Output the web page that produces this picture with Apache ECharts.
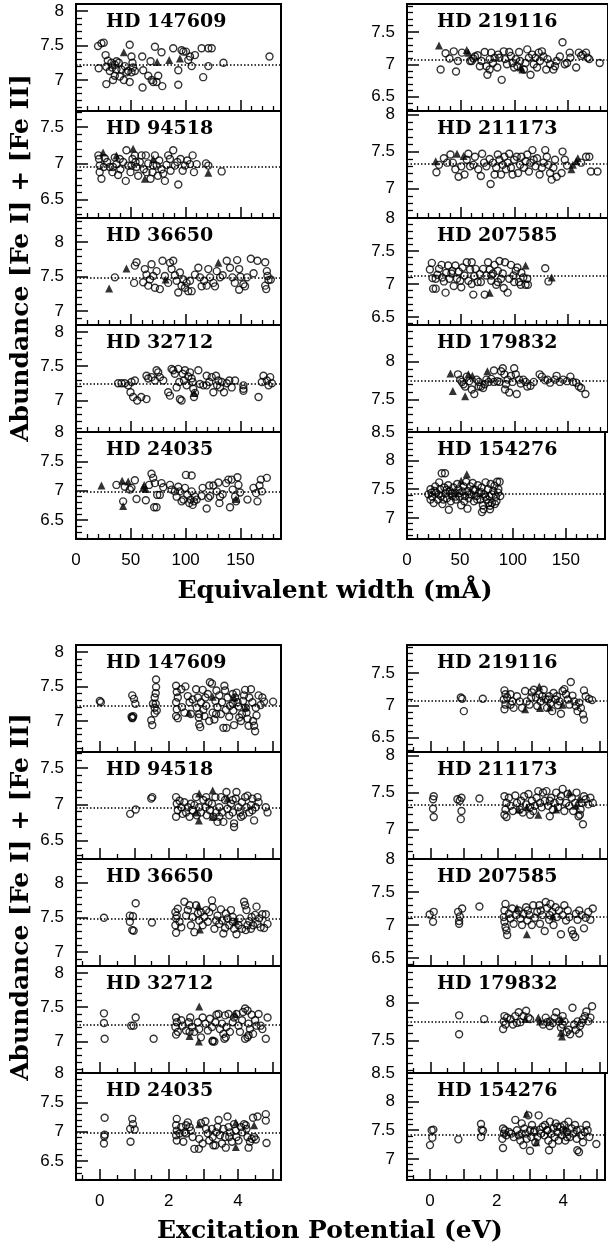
<!DOCTYPE html>
<html><head><meta charset="utf-8">
<script src="https://cdn.jsdelivr.net/npm/echarts@6/dist/echarts.min.js"></script>
<style>html,body{margin:0;padding:0;background:#fff}#c{width:608px;height:1247px}</style>
</head><body><div id="c"></div>
<script>
// ---- panel metadata ----
const stars = ['HD 147609','HD 94518','HD 36650','HD 32712','HD 24035','HD 219116','HD 211173','HD 207585','HD 179832','HD 154276'];
const yMin = [6.55,6.25,6.8,6.54,6.18,6.28,6.6,6.38,7.07,6.63];
const yMax = [8.1,7.72,8.35,8.1,8.0,7.93,8.05,8.0,8.48,8.5];
const meanAbund = [7.22,6.95,7.49,7.25,6.99,7.07,7.33,7.12,7.74,7.42];
const ewTickLabels = [0,50,100,150];
const epTickLabels = [0,2,4];
const ewRange = [0,187];
const epRange = [-0.69,5.25];

// ---- Equivalent width panels: [EW (mA), abundance] ; I = Fe I (open circles), II = Fe II (triangles) ----
const ewI_147609 = [[20.1,7.49],[23.2,7.53],[25.3,7.54],[27,7.36],[29,7.28],[27.7,7.19],[30.8,7.13],[33,7.18],[35.4,7.22],[37,7.27],[39,7.25],[35.4,7.06],[40,7.05],[27.7,6.94],[41.5,7.15],[46,7.11],[43.6,7.0],[49,7.51],[50.6,7.34],[51.5,7.25],[52,7.18],[50.6,7.11],[53.7,7.13],[49,6.97],[60.4,7.34],[61.3,7.14],[60.7,6.89],[65.9,7.06],[68,7.27],[69,7.0],[70.4,6.97],[72,7.48],[75,7.06],[73.5,6.97],[78,7.4],[78.7,6.91],[88.7,7.46],[93.3,7.14],[93.3,6.93],[96.3,7.43],[97.9,7.41],[100.3,7.41],[102.4,7.29],[104,7.34],[105.5,7.2],[108.5,7.36],[114.6,7.46],[116,7.04],[120.7,7.2],[120.7,7.46],[123.8,7.46],[134.5,7.25],[176.5,7.34],[20.7,7.17],[32.3,7.25],[36.9,7.15],[44.5,7.2],[47.6,7.13],[33.8,7.0]];
const ewII_147609 = [[43.6,7.4],[74,7.26],[85,7.29],[94.8,7.31]];

const ewI_94518 = [[20.4,7.11],[21,7.06],[21.6,6.97],[23.2,6.79],[26.2,7.07],[28.4,7.02],[30.8,6.95],[33.2,6.88],[35.4,7.08],[36.9,6.99],[38.4,6.84],[40.5,6.92],[43,7.02],[45.4,6.76],[46,7.18],[47.6,6.97],[49.7,6.88],[51.5,7.06],[53.7,7.11],[55.2,6.95],[56.7,6.83],[58.2,7.02],[59.8,7.11],[61.9,6.92],[63.7,7.11],[65.9,7.0],[68,6.79],[69.8,6.88],[72,7.11],[73.5,6.97],[75.9,7.04],[78,6.92],[79.6,6.86],[81.1,6.76],[82.6,6.98],[84.1,7.11],[86.3,6.9],[88.7,7.18],[90.2,6.97],[92.4,7.02],[93.3,6.71],[95.4,7.06],[97.3,6.9],[99.4,6.97],[101.5,7.04],[104,6.99],[106.4,7.11],[107.6,6.88],[110.1,6.99],[118.6,7.0],[120.7,6.97],[132.9,6.89],[25.3,6.95],[33.8,6.95],[39.9,7.06],[50.6,6.97],[64.3,6.88],[70.4,6.97],[54.3,7.02],[74.7,6.83],[85.7,7.06],[21.6,6.88]];
const ewII_94518 = [[24.7,7.15],[52.1,7.2],[62.8,6.79],[120.7,6.87],[36.9,7.11],[70.4,7.06]];

const ewI_36650 = [[35.4,7.49],[53,7.41],[53.7,7.66],[55.2,7.71],[61.3,7.42],[62.8,7.61],[64.3,7.53],[65.9,7.37],[67.4,7.46],[68.9,7.68],[70.4,7.51],[72,7.34],[73.5,7.58],[76.5,7.32],[78.9,7.73],[81.1,7.51],[84.1,7.41],[85.7,7.7],[87.2,7.61],[88.7,7.73],[90.2,7.52],[91.8,7.44],[93.3,7.27],[94.8,7.56],[96.3,7.37],[97.9,7.46],[99.4,7.34],[100.9,7.41],[102.4,7.29],[104,7.44],[105.5,7.29],[108.5,7.53],[111.6,7.63],[113.1,7.49],[114.6,7.36],[116.8,7.44],[119.2,7.37],[120.7,7.61],[122.3,7.49],[125.3,7.41],[126.8,7.36],[128.4,7.58],[131.4,7.49],[133.8,7.52],[137.5,7.73],[140.5,7.63],[142.7,7.49],[144.9,7.41],[147,7.74],[148.8,7.61],[150,7.5],[152.7,7.39],[154.2,7.36],[148.8,7.31],[159.5,7.76],[162,7.55],[165.5,7.73],[172.6,7.71],[174.1,7.58],[174.7,7.51],[175.6,7.45],[172.6,7.37],[173.5,7.32],[177.7,7.46],[156,7.49]];
const ewII_36650 = [[30.2,7.33],[46,7.62],[81.7,7.46],[129.9,7.7]];

const ewI_32712 = [[38.4,7.25],[41.5,7.25],[44.5,7.25],[47.6,7.22],[49.7,7.12],[50.6,7.27],[53.7,7.29],[52.1,7.05],[55.8,7.0],[59.5,7.05],[64.3,7.02],[64.3,7.36],[65.9,7.32],[68.9,7.34],[72,7.29],[73.5,7.44],[75,7.41],[76.5,7.34],[79.6,7.29],[84.1,7.12],[85.7,7.07],[87.2,7.46],[88.7,7.44],[90.2,7.39],[91.8,7.19],[93.3,7.46],[94.2,7.27],[94.8,7.02],[96.3,7.0],[97.3,7.39],[98.5,7.29],[99.4,7.44],[100.9,7.22],[102.4,7.35],[104,7.41],[105.5,7.32],[106.4,7.27],[107,7.17],[107.6,7.05],[108.5,7.11],[111.6,7.44],[113.1,7.24],[116.2,7.22],[119.2,7.36],[121.6,7.27],[123.8,7.34],[125.3,7.12],[127.7,7.36],[129.9,7.29],[131.4,7.19],[132.9,7.27],[135,7.12],[137.5,7.25],[139.9,7.29],[142,7.19],[145.1,7.29],[152.7,7.22],[152.7,7.17],[152.7,7.14],[166.5,7.05],[169.5,7.27],[171,7.36],[174.1,7.29],[177.1,7.34],[178.7,7.25],[175.6,7.22],[119.2,7.22],[128.7,7.22]];
const ewII_32712 = [[107.9,7.11]];

const ewI_24035 = [[36.9,7.1],[43,6.82],[44.5,7.07],[49.1,7.02],[50.6,7.05],[53.7,7.18],[55.2,6.86],[63.7,6.84],[66.7,7.1],[68.9,7.29],[70.4,7.22],[72,7.13],[71.3,6.72],[73.5,6.72],[74.1,6.93],[76.5,6.93],[78,7.13],[79.6,7.06],[85.7,7.1],[87.2,7.02],[90.2,6.99],[91.8,6.9],[93.3,7.07],[94.8,6.99],[96.3,6.82],[97.9,6.85],[99.4,7.05],[100.3,7.27],[101.5,6.93],[103.4,6.79],[104.6,6.85],[105.5,7.26],[106.4,6.76],[107.6,6.82],[108.5,6.9],[110.1,6.85],[115.5,7.05],[119.2,6.7],[120.7,6.88],[121.6,7.09],[122.3,6.91],[125.3,7.09],[128.4,6.99],[129.9,7.14],[130.8,6.79],[131.4,6.9],[133.8,6.94],[136.9,7.13],[139,7.19],[140.5,6.72],[142,7.19],[142.9,7.02],[145.1,6.9],[146,6.82],[147.3,7.23],[148.2,7.1],[149.7,6.97],[156.4,6.85],[161.9,7.05],[164.3,6.96],[165.5,6.82],[167.4,7.09],[168.6,7.19],[169.5,6.99],[174.1,7.22],[105.5,6.99],[114.6,6.91]];
const ewII_24035 = [[23.2,7.09],[42.1,7.17],[43,6.74],[47.6,7.16],[61.3,7.05],[63.7,7.03],[62.2,7.1],[146,6.86]];

const ewI_219116 = [[31.3,6.92],[35.9,7.17],[39.5,7.09],[43.5,7.2],[45.6,6.89],[47.4,7.05],[51.1,7.18],[58.7,7.05],[61.7,7.09],[63.2,7.12],[65.7,7.14],[69.3,7.05],[72.3,7.19],[73.9,6.97],[74.8,6.84],[76.9,6.92],[78.4,7.18],[80,7.02],[81.5,7.1],[84,6.95],[86,7.1],[88.1,6.76],[90,7.2],[91.2,7.08],[93,7.0],[95.1,7.19],[96.7,7.13],[98.2,7.02],[99.7,6.95],[101.2,7.08],[102.7,6.97],[104.3,7.19],[105.2,7.05],[108.8,6.92],[110.3,7.02],[111.9,7.23],[113.4,7.1],[114.9,6.84],[116.4,7.15],[117.9,7.0],[119.5,7.1],[121,6.95],[122.5,7.18],[123.7,7.05],[125.5,7.2],[127,7.12],[129.5,6.92],[130.7,7.08],[133.1,7.0],[136.2,6.92],[137.7,6.97],[139.2,7.05],[142.2,7.12],[144.7,7.34],[146.8,7.0],[148.9,7.02],[151.4,7.18],[152,7.1],[157.4,6.95],[159.9,7.18],[162,7.13],[163.5,7.15],[166.6,7.18],[168.1,7.1],[169.6,7.08],[179.3,7.02],[84.8,7.15],[77,7.08],[67.8,6.97],[60.2,7.05]];
const ewII_219116 = [[29.8,7.29],[55.6,7.22],[57.1,7.18],[105.8,6.95],[107.3,6.92]];

const ewI_211173 = [[27.4,7.22],[29.8,7.32],[34.3,7.41],[37.4,7.35],[40.4,7.46],[42.6,7.35],[45,7.26],[48,7.16],[50.5,7.3],[53.5,7.19],[55.6,7.39],[57.1,7.47],[58.7,7.3],[61.7,7.32],[63.2,7.43],[66.3,7.26],[68.7,7.17],[69.9,7.47],[71.7,7.35],[73.9,7.3],[76.9,7.4],[77.8,7.06],[80,7.35],[81.5,7.19],[83,7.28],[84.5,7.46],[86,7.39],[87.5,7.19],[89.1,7.32],[90.6,7.43],[92.1,7.26],[93.6,7.35],[95.1,7.47],[96.7,7.28],[98.2,7.19],[99.7,7.39],[102.1,7.43],[103.3,7.21],[105.2,7.32],[106.4,7.43],[108.8,7.28],[110.3,7.37],[111.9,7.46],[113.4,7.23],[114.9,7.35],[116.7,7.52],[117.9,7.39],[119.5,7.3],[121,7.41],[123.4,7.19],[125.5,7.28],[127,7.35],[128.6,7.52],[130.1,7.43],[131.6,7.32],[133.1,7.21],[134.6,7.12],[136.2,7.28],[137.7,7.39],[139.2,7.16],[143.8,7.21],[144.7,7.5],[146.8,7.39],[148.9,7.31],[162,7.35],[166.6,7.43],[169.6,7.43],[171.1,7.23],[177.2,7.23]];
const ewII_211173 = [[26.7,7.37],[46.5,7.47],[52.6,7.44],[152.9,7.26],[154.4,7.32],[157.4,7.37],[159,7.41]];

const ewI_207585 = [[21.3,7.22],[23.1,7.32],[24.3,6.93],[26.7,6.93],[23.7,7.09],[28.3,7.14],[29.8,7.23],[32.2,7.29],[34.3,7.04],[35.9,6.87],[36.5,7.17],[38.3,7.28],[39.5,7.08],[41.3,7.16],[43.5,6.97],[45,7.28],[46.5,7.08],[48,7.19],[50.5,6.95],[51.7,7.25],[53.5,7.13],[55.6,7.33],[57.1,7.05],[58.7,7.22],[60.2,7.33],[61.7,6.84],[62.6,7.12],[63.8,7.23],[65.7,7.03],[67.8,7.15],[68.7,7.03],[70.8,7.23],[72.3,6.84],[73.9,7.13],[75.4,7.33],[76.9,7.22],[78.4,7.05],[80,7.16],[81.5,7.29],[83,6.99],[84.5,7.2],[86,7.35],[87.5,7.08],[89.1,7.16],[90,6.94],[91.2,7.33],[93.6,6.87],[95.1,7.08],[96.7,7.29],[99.1,7.13],[101.2,7.2],[102.7,7.25],[104.3,7.03],[106.4,7.17],[108.2,7.1],[110.3,6.99],[111.9,7.08],[112.5,6.99],[128.6,7.24],[131.6,7.04],[26.7,7.08],[32.8,7.1],[42.2,7.2],[49.5,7.05],[60.2,7.0],[78.4,7.13],[84.5,7.03],[99.7,7.03],[105.8,6.99]];
const ewII_207585 = [[76.9,6.87],[110.3,7.28],[134.6,7.1]];

const ewI_179832 = [[47.4,7.83],[49.5,7.76],[51.1,7.73],[52.6,7.7],[54.1,7.67],[55.6,7.8],[57.8,7.74],[60.2,7.63],[62.6,7.57],[64.7,7.76],[66.9,7.73],[68.7,7.67],[70.8,7.65],[72.3,7.7],[73.9,7.76],[76,7.73],[78.4,7.77],[80.9,7.88],[83.9,7.74],[86,7.73],[87.5,7.87],[89.1,7.91],[90.6,7.83],[91.2,7.63],[92.1,7.7],[93.6,7.76],[95.1,7.59],[96.7,7.81],[98.2,7.73],[99.7,7.91],[101.2,7.83],[102.1,7.57],[104.3,7.76],[105.8,7.71],[108.2,7.76],[110.3,7.73],[111.9,7.67],[114.9,7.68],[117.9,7.73],[123.4,7.83],[125.5,7.8],[128.6,7.75],[130.7,7.76],[133.1,7.72],[137.7,7.76],[139.2,7.81],[142.2,7.73],[145.3,7.76],[148.9,7.74],[152,7.8],[154.4,7.73],[157.4,7.72],[159.9,7.67],[162,7.65],[166,7.57],[80.9,7.73],[66.6,7.67]];
const ewII_179832 = [[40.4,7.84],[42.6,7.61],[54.1,7.54],[57.1,7.83],[60.8,7.81],[74.8,7.87]];

const ewI_154276 = [[32.8,7.78],[35.9,7.78],[39.5,7.14],[57.1,7.16],[72.3,7.15],[70.8,7.1],[78.4,7.15],[83,7.24],[84.5,7.29],[87.5,7.63],[86,7.44],[88.1,7.38],[20.1,7.41],[22.2,7.5],[22.2,7.32],[23.7,7.37],[25.2,7.26],[26.7,7.55],[27.4,7.44],[29.2,7.32],[30.4,7.62],[31.3,7.5],[32.2,7.38],[33.4,7.24],[35.3,7.53],[36.5,7.43],[37.7,7.34],[38.9,7.57],[40.4,7.47],[41.3,7.29],[42.6,7.38],[43.8,7.53],[45,7.44],[46.2,7.32],[47.4,7.59],[48.6,7.5],[49.8,7.37],[51.1,7.22],[52.3,7.46],[53.5,7.55],[54.7,7.38],[55.9,7.63],[57.1,7.47],[58.4,7.34],[59.6,7.55],[60.8,7.41],[62,7.61],[63.2,7.29],[64.4,7.49],[65.7,7.38],[66.9,7.57],[68.1,7.44],[69.3,7.32],[70.5,7.53],[71.7,7.22],[72.9,7.41],[74.2,7.62],[75.4,7.32],[76.6,7.5],[77.8,7.38],[79,7.59],[80.2,7.26],[81.5,7.47],[82.7,7.56],[83.9,7.37],[85.1,7.63],[86.3,7.5],[23.1,7.44],[26.1,7.47],[29.8,7.41],[34.3,7.32],[37.4,7.49],[41.9,7.43],[45.6,7.37],[49.5,7.43],[54.1,7.29],[58.7,7.41],[62.6,7.49],[66.3,7.32],[69.9,7.45],[73.9,7.37],[76.9,7.26],[80,7.41],[78.4,7.21]];
const ewII_154276 = [[56.5,7.76],[51.1,7.65]];

// ---- Excitation potential panels: [EP (eV), abundance] ----
const epI_147609 = [[0.0,7.29],[0.03,7.27],[0.92,7.06],[0.95,7.05],[0.97,7.07],[0.94,7.04],[0.94,7.37],[0.99,7.32],[1.03,7.25],[1.49,7.01],[1.52,6.94],[1.59,7.11],[1.59,7.19],[1.62,7.25],[1.59,7.34],[1.62,7.4],[1.63,7.49],[1.63,7.6],[1.65,7.15],[1.54,7.25],[2.21,7.51],[2.23,7.42],[2.26,7.34],[2.21,7.27],[2.23,7.17],[2.21,7.07],[2.26,7.04],[2.36,7.46],[2.38,7.2],[2.45,7.12],[2.48,7.5],[2.55,7.36],[2.6,7.27],[2.64,7.1],[2.69,7.31],[2.79,7.46],[2.81,7.19],[2.84,7.34],[2.87,7.05],[2.88,6.95],[2.91,6.91],[2.93,7.27],[2.98,7.45],[3.0,7.16],[3.03,7.07],[3.06,7.34],[3.08,7.22],[3.13,7.39],[3.17,7.0],[3.19,7.56],[3.25,7.54],[3.27,7.12],[3.32,7.02],[3.35,7.29],[3.38,7.44],[3.41,7.2],[3.46,7.37],[3.51,7.1],[3.54,7.27],[3.58,6.9],[3.61,7.51],[3.63,7.44],[3.65,7.16],[3.67,6.9],[3.7,7.34],[3.75,7.06],[3.77,7.22],[3.85,7.39],[3.87,7.15],[3.89,6.94],[3.92,7.34],[3.96,7.41],[3.99,7.27],[4.02,7.21],[4.04,7.05],[4.09,7.0],[4.12,7.1],[4.15,7.29],[4.18,7.37],[4.21,7.45],[4.23,7.19],[4.25,7.12],[4.28,7.03],[4.31,6.93],[4.33,7.34],[4.38,7.46],[4.42,7.27],[4.44,7.0],[4.47,6.93],[4.5,6.85],[4.52,7.19],[4.54,7.08],[4.6,7.37],[4.66,7.23],[4.71,7.34],[4.76,7.28],[5.02,7.28],[2.88,7.1],[3.37,7.1],[3.85,7.25]];
const epII_147609 = [[2.58,7.12],[3.27,7.35],[3.89,7.34],[4.23,7.2]];

const epI_94518 = [[0.88,6.87],[1.04,6.93],[1.49,7.08],[1.52,7.1],[2.21,7.1],[2.23,7.01],[2.26,6.92],[2.21,6.83],[2.36,6.96],[2.4,6.87],[2.45,7.03],[2.5,6.89],[2.55,6.96],[2.6,6.83],[2.64,7.01],[2.69,6.92],[2.74,6.99],[2.81,6.85],[2.88,6.96],[2.93,6.89],[3.0,7.06],[3.06,6.96],[3.1,6.85],[3.15,7.03],[3.19,6.92],[3.25,7.01],[3.29,6.83],[3.35,7.1],[3.38,6.89],[3.41,6.76],[3.46,6.96],[3.51,7.1],[3.54,6.89],[3.58,6.76],[3.63,7.06],[3.67,7.17],[3.7,6.94],[3.75,6.85],[3.8,7.01],[3.85,6.89],[3.89,6.74],[3.89,6.69],[3.94,7.08],[3.96,7.17],[4.02,6.96],[4.06,6.89],[4.12,7.03],[4.15,6.85],[4.21,7.1],[4.25,6.96],[4.28,7.12],[4.33,6.89],[4.38,6.99],[4.42,7.08],[4.47,6.78],[4.52,6.96],[4.57,7.1],[4.6,7.03],[4.81,6.96],[4.86,6.89],[2.31,7.05],[2.79,7.1],[3.08,7.1],[3.46,6.83],[3.85,7.06],[4.09,6.83],[4.42,6.92]];
const epII_94518 = [[2.88,7.15],[3.27,7.19],[2.87,6.78],[3.27,6.83],[2.79,6.89],[3.7,7.08]];

const epI_36650 = [[0.12,7.5],[0.87,7.53],[0.96,7.52],[0.87,7.44],[0.94,7.32],[0.98,7.31],[1.04,7.71],[1.51,7.43],[2.19,7.58],[2.21,7.49],[2.19,7.39],[2.21,7.28],[2.26,7.63],[2.23,7.53],[2.31,7.44],[2.36,7.36],[2.45,7.73],[2.5,7.53],[2.55,7.61],[2.6,7.68],[2.64,7.39],[2.69,7.51],[2.74,7.29],[2.79,7.68],[2.84,7.56],[2.88,7.46],[2.93,7.58],[2.98,7.39],[3.03,7.51],[3.08,7.61],[3.13,7.44],[3.17,7.58],[3.25,7.75],[3.27,7.65],[3.32,7.34],[3.37,7.46],[3.41,7.53],[3.46,7.41],[3.51,7.62],[3.54,7.46],[3.58,7.27],[3.63,7.35],[3.65,7.56],[3.7,7.49],[3.75,7.39],[3.8,7.61],[3.85,7.44],[3.89,7.34],[3.96,7.26],[4.02,7.39],[4.06,7.49],[4.12,7.34],[4.18,7.73],[4.21,7.68],[4.25,7.61],[4.28,7.39],[4.33,7.45],[4.38,7.34],[4.4,7.51],[4.44,7.39],[4.5,7.54],[4.54,7.66],[4.57,7.41],[4.62,7.49],[4.66,7.36],[4.71,7.55],[4.76,7.35],[4.81,7.55],[4.86,7.41],[3.85,7.51],[4.23,7.32]];
const epII_36650 = [[2.86,7.67],[2.9,7.33],[3.94,7.45]];

const epI_32712 = [[0.12,7.41],[0.12,7.27],[0.14,7.04],[0.91,7.23],[0.98,7.23],[1.04,7.35],[1.56,7.04],[2.21,7.35],[2.23,7.28],[2.19,7.21],[2.26,7.14],[2.21,7.1],[2.36,7.31],[2.4,7.23],[2.5,7.16],[2.58,7.28],[2.62,7.35],[2.67,7.21],[2.74,7.14],[2.84,7.28],[2.88,7.18],[2.93,7.06],[2.98,7.35],[3.06,7.26],[3.13,7.16],[3.19,7.33],[3.25,7.21],[3.27,7.01],[3.35,7.28],[3.38,7.39],[3.44,7.4],[3.48,7.18],[3.54,7.26],[3.58,7.11],[3.63,7.38],[3.67,7.21],[3.73,7.4],[3.77,7.14],[3.85,7.28],[3.89,7.35],[3.96,7.4],[4.02,7.23],[4.06,7.14],[4.12,7.31],[4.15,7.43],[4.21,7.48],[4.28,7.45],[4.31,7.26],[4.35,7.18],[4.4,7.39],[4.44,7.11],[4.5,7.31],[4.54,7.23],[4.6,7.4],[4.66,7.23],[4.71,7.18],[4.86,7.35],[4.81,7.04],[4.21,7.04],[4.28,7.06],[4.31,7.09],[3.27,7.0],[3.32,7.0],[3.61,7.04],[3.65,7.06],[2.6,7.14]];
const epII_32712 = [[2.88,7.51],[2.6,7.08],[2.87,7.0],[3.92,7.4]];

const epI_24035 = [[0.14,7.24],[0.14,6.95],[0.13,6.92],[0.12,6.8],[0.94,7.22],[0.96,7.13],[0.88,7.05],[1.01,7.04],[0.89,6.83],[2.23,7.22],[2.21,7.11],[2.23,7.02],[2.21,6.94],[2.23,6.85],[2.31,6.97],[2.36,7.08],[2.42,6.83],[2.45,6.99],[2.5,7.11],[2.55,7.16],[2.6,7.08],[2.64,7.02],[2.69,6.91],[2.74,6.71],[2.87,6.71],[2.93,7.15],[2.98,6.8],[3.06,7.18],[3.08,7.05],[3.13,6.97],[3.17,6.85],[3.25,7.05],[3.27,6.91],[3.29,6.77],[3.35,6.77],[3.37,6.99],[3.41,7.08],[3.44,7.2],[3.48,6.94],[3.54,6.8],[3.58,7.05],[3.63,6.91],[3.65,6.73],[3.7,7.26],[3.73,7.08],[3.77,6.99],[3.83,6.83],[3.89,7.13],[3.94,7.02],[3.96,6.91],[4.02,6.85],[4.09,7.08],[4.13,6.99],[4.18,7.13],[4.23,7.11],[4.25,7.05],[4.28,6.91],[4.31,6.73],[4.35,6.83],[4.4,6.88],[4.44,7.24],[4.47,6.91],[4.52,6.87],[4.57,7.26],[4.81,7.3],[4.81,7.19],[4.83,6.81],[2.88,6.88],[2.5,6.97],[3.75,6.91]];
const epII_24035 = [[2.88,7.13],[3.94,7.16],[3.94,6.74],[4.47,7.11]];

const epI_219116 = [[0.9,7.12],[0.94,7.1],[0.99,6.91],[1.55,7.1],[2.19,7.23],[2.22,7.17],[2.17,7.09],[2.22,7.01],[2.19,6.94],[2.27,7.12],[2.37,7.17],[2.42,7.06],[2.46,6.96],[2.56,7.14],[2.64,7.06],[2.71,6.96],[2.8,7.22],[2.85,7.06],[2.93,7.01],[3.0,7.2],[3.06,7.24],[3.12,7.12],[3.16,6.99],[3.22,7.17],[3.26,7.06],[3.31,7.14],[3.35,7.24],[3.41,7.09],[3.45,6.96],[3.51,7.14],[3.55,7.03],[3.6,6.91],[3.64,7.19],[3.7,7.09],[3.74,7.14],[3.77,7.0],[3.86,6.87],[3.91,7.22],[3.96,7.25],[4.01,7.17],[4.06,7.09],[4.11,7.01],[4.15,7.36],[4.2,7.15],[4.25,7.06],[4.3,6.99],[4.35,6.91],[4.4,7.04],[4.45,6.96],[4.51,6.86],[4.54,6.78],[4.54,7.23],[4.59,7.14],[4.69,7.1],[4.78,7.08],[2.98,7.12],[3.48,7.09],[3.82,7.06],[2.37,7.01]];
const epII_219116 = [[2.8,6.94],[3.22,7.29],[3.24,6.96],[3.53,6.97],[3.91,7.01]];

const epI_211173 = [[0.1,7.45],[0.08,7.41],[0.08,7.28],[0.1,7.17],[0.8,7.41],[0.87,7.39],[0.92,7.43],[0.92,7.25],[0.9,7.14],[1.45,7.42],[2.19,7.45],[2.25,7.36],[2.22,7.27],[2.19,7.2],[2.25,7.17],[2.32,7.43],[2.37,7.32],[2.44,7.25],[2.51,7.46],[2.56,7.36],[2.64,7.27],[2.68,7.39],[2.73,7.23],[2.77,7.45],[2.83,7.34],[2.9,7.48],[2.95,7.3],[3.0,7.39],[3.04,7.25],[3.09,7.32],[3.14,7.43],[3.19,7.52],[3.24,7.36],[3.29,7.3],[3.33,7.5],[3.38,7.39],[3.43,7.52],[3.48,7.32],[3.53,7.18],[3.57,7.43],[3.62,7.27],[3.67,7.36],[3.72,7.5],[3.77,7.3],[3.82,7.39],[3.86,7.45],[3.91,7.55],[3.96,7.25],[4.01,7.36],[4.06,7.48],[4.11,7.32],[4.18,7.43],[4.22,7.25],[4.28,7.36],[4.32,7.5],[4.38,7.18],[4.42,7.2],[4.44,7.27],[4.47,7.36],[4.51,7.07],[4.54,7.45],[4.59,7.41],[4.67,7.34],[4.73,7.43],[4.8,7.36],[2.95,7.2],[3.53,7.39]];
const epII_211173 = [[2.61,7.27],[2.85,7.3],[3.19,7.2],[3.72,7.27],[4.3,7.32],[4.4,7.41],[4.11,7.5]];

const epI_207585 = [[-0.02,7.16],[0.1,7.2],[0.08,7.05],[0.82,7.2],[0.87,7.13],[0.85,7.06],[0.85,7.02],[0.94,7.25],[1.45,7.28],[2.22,7.32],[2.19,7.22],[2.17,7.12],[2.19,7.05],[2.22,6.97],[2.25,6.92],[2.27,6.85],[2.32,7.17],[2.37,7.1],[2.42,7.25],[2.46,7.02],[2.54,7.15],[2.61,7.22],[2.66,7.1],[2.71,7.0],[2.75,7.17],[2.83,7.27],[2.87,7.07],[2.93,7.15],[3.0,7.0],[3.04,7.3],[3.09,7.11],[3.16,7.2],[3.22,7.3],[3.26,7.22],[3.31,7.15],[3.38,6.91],[3.41,7.35],[3.45,7.26],[3.51,7.08],[3.55,7.32],[3.6,7.2],[3.64,7.0],[3.7,7.27],[3.74,7.12],[3.8,7.22],[3.86,6.86],[3.91,7.15],[3.96,7.3],[4.01,7.07],[4.06,7.22],[4.11,7.12],[4.18,6.92],[4.22,6.86],[4.28,6.82],[4.3,7.17],[4.35,7.08],[4.4,7.22],[4.47,7.15],[4.54,6.95],[4.59,7.11],[4.67,7.2],[4.73,7.08],[4.8,7.25],[2.88,7.22],[3.53,7.15],[3.24,7.02]];
const epII_207585 = [[2.56,7.26],[2.85,6.86],[3.62,7.13]];

const epI_179832 = [[0.85,7.83],[0.85,7.58],[1.59,7.78],[2.17,7.75],[2.19,7.82],[2.15,7.65],[2.22,7.71],[2.27,7.8],[2.37,7.78],[2.44,7.71],[2.51,7.82],[2.56,7.73],[2.61,7.87],[2.66,7.74],[2.75,7.82],[2.83,7.89],[2.9,7.8],[3.33,7.71],[3.41,7.8],[3.45,7.74],[3.53,7.69],[3.62,7.73],[3.67,7.8],[3.72,7.87],[3.8,7.75],[3.86,7.67],[3.91,7.71],[3.96,7.75],[4.03,7.61],[4.09,7.64],[4.13,7.58],[4.2,7.93],[4.25,7.71],[4.3,7.64],[4.35,7.75],[4.4,7.59],[4.42,7.69],[4.47,7.73],[4.51,7.78],[4.57,7.82],[4.61,7.88],[4.67,7.75],[4.73,7.8],[4.78,7.95],[3.53,7.75],[2.95,7.78],[3.91,7.82]];
const epII_179832 = [[2.8,7.78],[3.19,7.8],[3.24,7.75],[3.86,7.78],[3.89,7.55],[3.86,7.6]];

const epI_154276 = [[0.0,7.24],[0.05,7.5],[0.1,7.51],[0.07,7.37],[0.85,7.34],[1.53,7.61],[1.55,7.51],[1.59,7.49],[1.53,7.38],[2.19,7.53],[2.22,7.44],[2.17,7.35],[2.19,7.19],[2.25,7.5],[2.29,7.41],[2.37,7.47],[2.44,7.44],[2.51,7.38],[2.56,7.68],[2.61,7.5],[2.66,7.41],[2.71,7.32],[2.75,7.62],[2.8,7.24],[2.83,7.53],[2.87,7.44],[2.9,7.35],[2.95,7.76],[3.0,7.14],[3.0,7.5],[3.04,7.38],[3.06,7.59],[3.12,7.47],[3.16,7.29],[3.22,7.38],[3.26,7.76],[3.29,7.51],[3.33,7.44],[3.38,7.56],[3.43,7.41],[3.45,7.59],[3.51,7.5],[3.55,7.32],[3.57,7.15],[3.6,7.65],[3.64,7.44],[3.67,7.26],[3.7,7.53],[3.74,7.38],[3.77,7.62],[3.82,7.47],[3.86,7.32],[3.91,7.56],[3.96,7.41],[3.99,7.5],[4.03,7.59],[4.06,7.32],[4.11,7.47],[4.15,7.65],[4.2,7.38],[4.25,7.53],[4.3,7.44],[4.35,7.59],[4.4,7.35],[4.42,7.15],[4.47,7.12],[4.51,7.51],[4.54,7.41],[4.59,7.29],[4.64,7.47],[4.69,7.59],[4.73,7.5],[4.78,7.38],[4.99,7.26],[3.53,7.5],[3.82,7.56],[4.11,7.38],[4.4,7.5],[3.14,7.5],[2.75,7.44]];
const epII_154276 = [[2.9,7.79],[3.19,7.29],[4.06,7.53]];

const ewI = [ewI_147609,ewI_94518,ewI_36650,ewI_32712,ewI_24035,ewI_219116,ewI_211173,ewI_207585,ewI_179832,ewI_154276];
const ewII = [ewII_147609,ewII_94518,ewII_36650,ewII_32712,ewII_24035,ewII_219116,ewII_211173,ewII_207585,ewII_179832,ewII_154276];
const epI = [epI_147609,epI_94518,epI_36650,epI_32712,epI_24035,epI_219116,epI_211173,epI_207585,epI_179832,epI_154276];
const epII = [epII_147609,epII_94518,epII_36650,epII_32712,epII_24035,epII_219116,epII_211173,epII_207585,epII_179832,epII_154276];

// ---- layout ----
const PANEL_H = 107, PANEL_W = 205;
const colLeft = [76, 407];
const blockTop = [4, 645];
const SERIF = '"DejaVu Serif", serif';

const grids = [], xAxes = [], yAxes = [], series = [], graphics = [];
const yFmt = v => { const r = Math.round(v * 2) / 2; return Math.abs(v - r) < 1e-6 ? String(r) : ''; };
const ewFmt = v => ewTickLabels.some(t => Math.abs(t - v) < 1e-6) ? String(Math.round(v)) : '';
const epFmt = v => epTickLabels.some(t => Math.abs(t - v) < 1e-6) ? String(Math.round(v)) : '';
const triItem = p => ({value: p, symbol: 'triangle', symbolSize: 8, itemStyle: {color: '#000', borderColor: '#000', borderWidth: 0}});

for (let b = 0; b < 2; b++) {
  for (let k = 0; k < 10; k++) {
    const col = k < 5 ? 0 : 1, row = k % 5;
    const idx = grids.length;
    const left = colLeft[col], top = blockTop[b] + row * PANEL_H;
    const isEW = b === 0;
    grids.push({left: left, top: top, width: PANEL_W, height: PANEL_H, show: true, borderColor: '#000', borderWidth: 2, backgroundColor: 'transparent', containLabel: false});
    xAxes.push({
      gridIndex: idx, type: 'value', position: 'bottom',
      min: isEW ? ewRange[0] : epRange[0], max: isEW ? ewRange[1] : epRange[1],
      minInterval: isEW ? 50 : 1, maxInterval: isEW ? 50 : 1, splitNumber: 4,
      axisLine: {show: true, onZero: false, lineStyle: {color: '#000', width: 2}}, splitLine: {show: false},
      axisTick: {show: true, inside: true, length: 11, lineStyle: {color: '#000', width: 1.5}},
      minorTick: {show: true, splitNumber: isEW ? 5 : 2, length: 5, lineStyle: {color: '#000', width: 1.3}},
      axisLabel: {show: row === 4, margin: 13, color: '#000', fontSize: 17, formatter: isEW ? ewFmt : epFmt}
    });
    yAxes.push({
      gridIndex: idx, type: 'value', position: 'left', min: yMin[k], max: yMax[k],
      minInterval: 0.5, maxInterval: 0.5, splitNumber: 3,
      axisLine: {show: true, onZero: false, lineStyle: {color: '#000', width: 2}}, splitLine: {show: false},
      axisTick: {show: true, inside: true, length: 12, lineStyle: {color: '#000', width: 1.5}},
      minorTick: {show: true, splitNumber: 5, length: 6, lineStyle: {color: '#000', width: 1.3}},
      axisLabel: {show: true, margin: 12, color: '#000', fontSize: 17, formatter: yFmt}
    });
    const circles = isEW ? ewI[k] : epI[k];
    const tris = (isEW ? ewII[k] : epII[k]).map(triItem);
    series.push({
      type: 'scatter', xAxisIndex: idx, yAxisIndex: idx, data: circles.concat(tris),
      symbol: 'circle', symbolSize: 7, silent: true,
      itemStyle: {color: 'rgba(255,255,255,0)', borderColor: '#000', borderWidth: 1.4},
      markLine: {silent: true, symbol: 'none', label: {show: false},
        lineStyle: {color: '#000', width: 1.5, type: [1.5, 2]}, data: [{yAxis: meanAbund[k]}]}
    });
    graphics.push({type: 'text', x: left + 30, y: top + 18, silent: true,
      style: {text: stars[k], font: 'bold 19px ' + SERIF, fill: '#000', align: 'left', verticalAlign: 'middle'}});
  }
}

const bigFont = 'bold 25px ' + SERIF;
graphics.push({type: 'text', x: 335, y: 591, silent: true, style: {text: 'Equivalent width (mÅ)', font: bigFont, fill: '#000', align: 'center', verticalAlign: 'middle'}});
graphics.push({type: 'text', x: 330, y: 1231, silent: true, style: {text: 'Excitation Potential (eV)', font: bigFont, fill: '#000', align: 'center', verticalAlign: 'middle'}});
graphics.push({type: 'text', x: 21, y: 258, rotation: Math.PI / 2, silent: true, style: {text: 'Abundance [Fe I] + [Fe II]', font: bigFont, fill: '#000', align: 'center', verticalAlign: 'middle'}});
graphics.push({type: 'text', x: 21, y: 897, rotation: Math.PI / 2, silent: true, style: {text: 'Abundance [Fe I] + [Fe II]', font: bigFont, fill: '#000', align: 'center', verticalAlign: 'middle'}});

const chart = echarts.init(document.getElementById('c'), null, {width: 608, height: 1247});
chart.setOption({
  backgroundColor: '#fff', animation: false,
  grid: grids, xAxis: xAxes, yAxis: yAxes, series: series, graphic: graphics
});
</script>
</body></html>
